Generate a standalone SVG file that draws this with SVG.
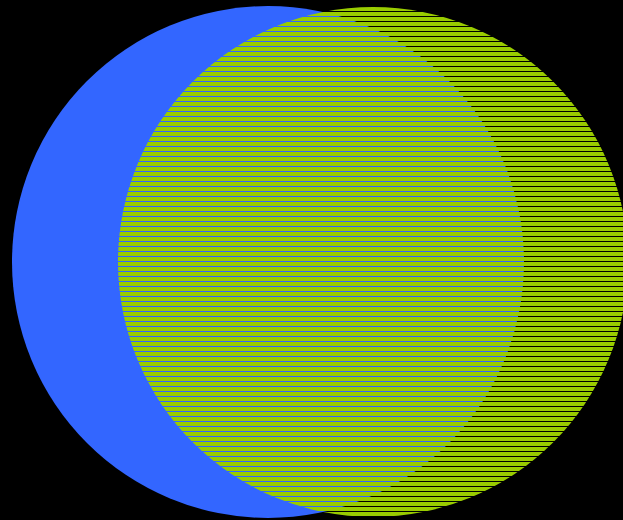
<svg xmlns="http://www.w3.org/2000/svg" width="623" height="520" viewBox="0 0 623 520">
<defs>
<pattern id="hatch" patternUnits="userSpaceOnUse" x="0" y="2" width="10" height="5">
<rect x="0" y="0" width="10" height="4" fill="#99cc00"/>
</pattern>
</defs>
<rect width="623" height="520" fill="#000"/>
<g id="blue"><circle cx="268" cy="262" r="256" fill="#3366ff"/></g>
<g id="green"><circle cx="373" cy="262" r="255" fill="url(#hatch)"/></g>
</svg>
